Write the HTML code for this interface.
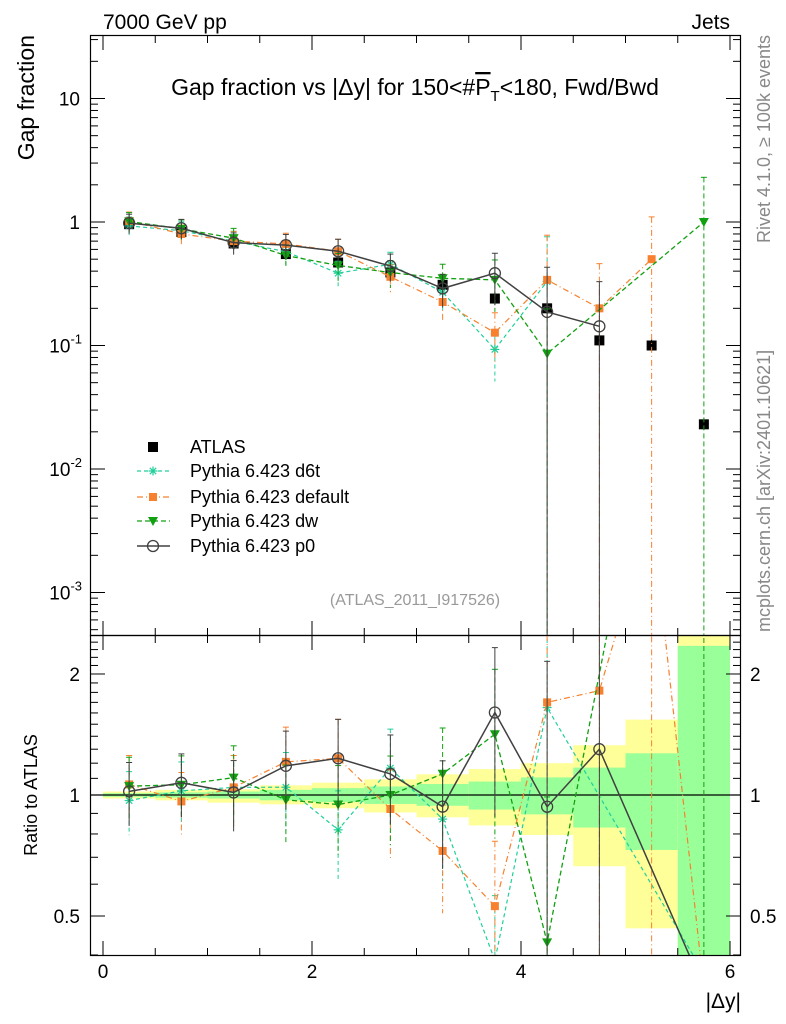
<!DOCTYPE html>
<html><head><meta charset="utf-8"><style>
html,body{margin:0;padding:0;background:#fff;width:786px;height:1024px;overflow:hidden}
svg{display:block;font-family:"Liberation Sans","DejaVu Sans",sans-serif}
</style></head><body>
<svg id="c" width="786" height="1024" viewBox="0 0 786 1024">
<defs>
<clipPath id="cm"><rect x="91" y="36" width="649" height="599"/></clipPath>
<clipPath id="cr"><rect x="91" y="636" width="649" height="319"/></clipPath>
</defs>
<text x="103" y="29" font-size="21">7000 GeV pp</text>
<text x="730" y="29" font-size="21" text-anchor="end">Jets</text>
<text x="415" y="95" font-size="23" text-anchor="middle">Gap fraction vs |Δy| for 150&lt;#<tspan text-decoration="overline">P</tspan><tspan font-size="15" dy="6">T</tspan><tspan dy="-6">&lt;180, Fwd/Bwd</tspan></text>
<text transform="translate(34,35) rotate(-90)" font-size="23" text-anchor="end">Gap fraction</text>
<text transform="translate(37,795) rotate(-90)" font-size="18" text-anchor="middle">Ratio to ATLAS</text>
<text x="741" y="1008" font-size="21" text-anchor="end">|Δy|</text>
<text transform="translate(770,35) rotate(-90)" font-size="18" fill="#888" text-anchor="end">Rivet 4.1.0, ≥ 100k events</text>
<text transform="translate(770,632) rotate(-90)" font-size="18" fill="#888">mcplots.cern.ch [arXiv:2401.10621]</text>
<text x="415" y="605" font-size="16" fill="#999" text-anchor="middle">(ATLAS_2011_I917526)</text>
<g id="bands" clip-path="url(#cr)"></g>
<g id="axes"></g>
<g id="main" clip-path="url(#cm)"></g>
<g id="ratio" clip-path="url(#cr)"></g>
<g id="legend"></g>
</svg>
<script>
const bins = [0.25,0.75,1.25,1.75,2.25,2.75,3.25,3.75,4.25,4.75,5.25,5.75];
const atlas = [0.96,0.83,0.67,0.55,0.47,0.39,0.31,0.24,0.20,0.11,0.10,0.023];
const d6t = [0.93,0.85,0.70,0.575,0.385,0.455,0.27,0.093,0.33,null,null,null];
const dflt = [1.02,0.80,0.70,0.665,0.58,0.36,0.225,0.127,0.34,0.20,0.50,null];
const dw = [1.01,0.88,0.74,0.535,0.445,0.39,0.35,0.34,0.086,null,null,1.0];
const p0 = [0.98,0.89,0.68,0.65,0.58,0.44,0.29,0.385,0.187,0.143,null,null];
const d6tRatioTail = [null,null,null,null,null,null,null,null,null,null,null,0.36];
const dfltRatioTail = [null,null,null,null,null,null,null,null,null,null,null,0.33];
const dwRatioTail = [null,null,null,null,null,null,null,null,null,null,null,null];
const p0RatioTail = [null,null,null,null,null,null,null,null,null,null,null,0.33];
const modelErr = [0.18,0.18,0.2,0.22,0.25,0.25,0.3,0.45,2,2,1.2,1.4];
const yellowHi = [1.02,1.03,1.033,1.057,1.073,1.094,1.126,1.16,1.2,1.33,1.54,3.0];
const yellowLo = [0.98,0.97,0.957,0.948,0.927,0.905,0.88,0.84,0.795,0.665,0.466,0.3];
const greenHi = [1.01,1.015,1.02,1.03,1.04,1.05,1.065,1.08,1.106,1.17,1.27,2.35];
const greenLo = [0.99,0.985,0.98,0.97,0.96,0.95,0.94,0.92,0.895,0.83,0.73,0.3];
const xTicks = [0,2,4,6];
const ratioTicks = [2,1,0.5];

const NS="http://www.w3.org/2000/svg";
const X=v=>103+v*104.5;
const Y=v=>222-123.5*Math.log10(v);
const R=v=>795-402*Math.log10(v);
function mk(tag,attrs,parent){const e=document.createElementNS(NS,tag);for(const k in attrs)e.setAttribute(k,attrs[k]);parent.appendChild(e);return e;}
const axes=document.getElementById('axes'),main=document.getElementById('main'),ratio=document.getElementById('ratio'),bands=document.getElementById('bands'),legend=document.getElementById('legend');

bins.forEach((b,i)=>{
  const yh=Math.max(R(yellowHi[i]),630), yl=Math.min(R(yellowLo[i]),960);
  let r=mk('rect',{x:X(b-0.25),y:yh,width:X(0.5)-X(0),height:yl-yh,fill:'#ffff99'},bands);
  
  
  const gh=Math.max(R(greenHi[i]),630), gl=Math.min(R(greenLo[i]),960);
  let g=mk('rect',{x:X(b-0.25),y:gh,width:X(0.5)-X(0),height:gl-gh,fill:'#99ff99'},bands);
  
  
});

let f1=mk('rect',{x:90.5,y:35.5,width:650,height:600,fill:'none',stroke:'#000','stroke-width':1.2},axes);


let f2=mk('rect',{x:90.5,y:635.5,width:650,height:320,fill:'none',stroke:'#000','stroke-width':1.2},axes);


let ul=mk('line',{x1:91,x2:740,y1:R(1),y2:R(1),stroke:'#000','stroke-width':1.3},axes);


for(let v=0;v<=6.001;v+=0.5){
  const maj=Math.abs(v-Math.round(v/2)*2)<1e-6;const L=maj?14:7;
  mk('line',{x1:X(v),x2:X(v),y1:635,y2:635-L,stroke:'#000'},axes);
  mk('line',{x1:X(v),x2:X(v),y1:36,y2:36+L,stroke:'#000'},axes);
  mk('line',{x1:X(v),x2:X(v),y1:955,y2:955-L,stroke:'#000'},axes);
  mk('line',{x1:X(v),x2:X(v),y1:636,y2:636+L,stroke:'#000'},axes);
}
xTicks.forEach(v=>{let t=mk('text',{x:X(v),y:978,'font-size':19,'text-anchor':'middle'},axes);t.textContent=v;
  });
for(let d=-4;d<=1;d++){for(let m=1;m<10;m++){const v=m*Math.pow(10,d);const y=Y(v);if(y<36||y>635)continue;
  const L=m==1?14:7;mk('line',{x1:91,x2:91+L,y1:y,y2:y,stroke:'#000'},axes);mk('line',{x1:740,x2:740-L,y1:y,y2:y,stroke:'#000'},axes);}}
[[10,'10'],[1,'1']].forEach(([v,s])=>{let t=mk('text',{x:80,y:Y(v)+7,'font-size':19,'text-anchor':'end'},axes);t.textContent=s;
  });
[-1,-2,-3].forEach(e=>{let t=mk('text',{x:82,y:Y(Math.pow(10,e))+7,'font-size':19,'text-anchor':'end'},axes);
  t.innerHTML='10<tspan font-size="13" dy="-9">'+e+'</tspan>';
  });
[0.4,0.5,0.6,0.7,0.8,0.9,1,2].forEach(v=>{const y=R(v);const L=(v==1||v==2||v==0.5)?14:7;
  mk('line',{x1:91,x2:91+L,y1:y,y2:y,stroke:'#000'},axes);mk('line',{x1:740,x2:740-L,y1:y,y2:y,stroke:'#000'},axes);});
for(let v=1.1;v<2.5;v+=0.1){if(Math.abs(v-2)<0.01)continue;const y=R(v);
  mk('line',{x1:91,x2:98,y1:y,y2:y,stroke:'#000'},axes);mk('line',{x1:740,x2:733,y1:y,y2:y,stroke:'#000'},axes);}
ratioTicks.forEach(v=>{[[80,'end'],[750,'start']].forEach(([x,a])=>{let t=mk('text',{x:x,y:R(v)+7,'font-size':19,'text-anchor':a},axes);t.textContent=v;
  });});

function marker(g,type,x,y,col){
  if(type=='sq'){mk('rect',{x:x-5,y:y-5,width:10,height:10,fill:col},g);}
  else if(type=='osq'){mk('rect',{x:x-4,y:y-4,width:8,height:8,fill:col},g);}
  else if(type=='tri'){mk('polygon',{points:`${x-5},${y-4} ${x+5},${y-4} ${x},${y+5}`,fill:col},g);}
  else if(type=='circ'){mk('circle',{cx:x,cy:y,r:5.5,fill:'none',stroke:col,'stroke-width':1.3},g);}
  else if(type=='star'){for(let a=0;a<4;a++){const t=a*Math.PI/4;mk('line',{x1:x-4.5*Math.cos(t),y1:y-4.5*Math.sin(t),x2:x+4.5*Math.cos(t),y2:y+4.5*Math.sin(t),stroke:col,'stroke-width':1.2},g);}}
}
const series=[
 {name:'pythia-d6t',vals:d6t,tail:d6tRatioTail,col:'#20cf9a',dash:'4,3',m:'star',w:1.2},
 {name:'pythia-default',vals:dflt,tail:dfltRatioTail,col:'#f7812f',dash:'6,3,1,3',m:'osq',w:1.2},
 {name:'pythia-dw',vals:dw,tail:dwRatioTail,col:'#10a010',dash:'5,3',m:'tri',w:1.3},
 {name:'pythia-p0',vals:p0,tail:p0RatioTail,col:'#404040',dash:'',m:'circ',w:1.5},
];
const ag=mk('g',{},main);
bins.forEach((b,i)=>{mk('line',{x1:X(b),x2:X(b),y1:Y(atlas[i]*1.12),y2:Y(atlas[i]*0.9),stroke:'#000'},ag);marker(ag,'sq',X(b),Y(atlas[i]),'#000');});
series.forEach(s=>{
  [main,ratio].forEach((par,k)=>{
    const F=k?R:Y;
    const lim=k?960:640;
    const g=mk('g',{},par);
    
    
    const pts=[];
    bins.forEach((b,i)=>{const v=s.vals[i];
      if(v==null){ if(k&&s.tail[i]!=null) pts.push([X(b),R(s.tail[i]),true]); return;}
      const val=k?v/atlas[i]:v;
      const e=modelErr[i];const lo=e>=1?1e-6:val*(1-e);const hi=val*(1+Math.min(e,1.3));
      mk('line',{x1:X(b),x2:X(b),y1:Math.max(F(hi),30),y2:Math.min(F(lo),lim),stroke:s.col,'stroke-dasharray':s.dash,'stroke-width':1},g);
      mk('line',{x1:X(b)-3,x2:X(b)+3,y1:F(hi),y2:F(hi),stroke:s.col},g);
      pts.push([X(b),F(val)]);});
    mk('polyline',{points:pts.map(p=>p[0]+','+p[1]).join(' '),fill:'none',stroke:s.col,'stroke-width':s.w,'stroke-dasharray':s.dash},g);
    pts.forEach(p=>{if(!p[2])marker(g,s.m,p[0],p[1],s.col);});
  });
});
const ly=[447,471,497,521,546];
const labels=['ATLAS','Pythia 6.423 d6t','Pythia 6.423 default','Pythia 6.423 dw','Pythia 6.423 p0'];
labels.forEach((l,i)=>{const g=mk('g',{},legend);
  
  if(i==0)marker(g,'sq',153,ly[i],'#000');else{const s=series[i-1];
    mk('line',{x1:137,x2:170,y1:ly[i],y2:ly[i],stroke:s.col,'stroke-width':s.w,'stroke-dasharray':s.dash},g);marker(g,s.m,153,ly[i],s.col);}
  const t=mk('text',{x:190,y:ly[i]+6,'font-size':18},g);t.textContent=l;});
</script>
</body></html>
